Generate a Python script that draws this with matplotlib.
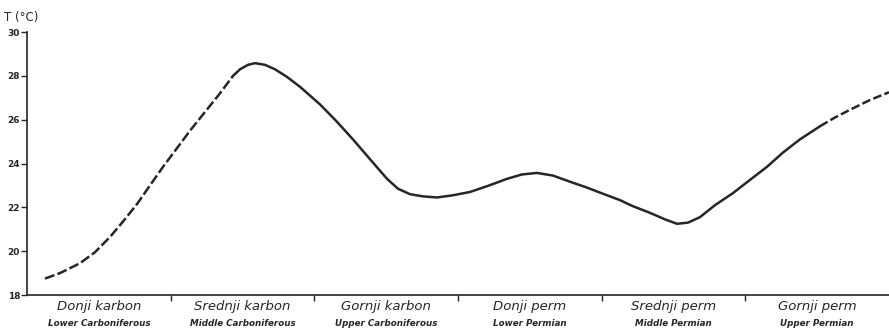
import numpy as np
import matplotlib.pyplot as plt

# periods (x axis is in period units, one unit per period)
periods_hr = ["Donji karbon", "Srednji karbon", "Gornji karbon",
              "Donji perm", "Srednji perm", "Gornji perm"]
periods_en = ["Lower Carboniferous", "Middle Carboniferous", "Upper Carboniferous",
              "Lower Permian", "Middle Permian", "Upper Permian"]

# temperature curve
t_pos = [0.125, 0.230, 0.369, 0.473, 0.578, 0.668, 0.766, 0.856, 0.947, 1.044,
         1.135, 1.239, 1.343, 1.434, 1.483, 1.538, 1.587, 1.657, 1.726, 1.810,
         1.900, 2.039, 2.151, 2.269, 2.387, 2.506, 2.582, 2.666, 2.756, 2.854,
         2.965, 3.083, 3.209, 3.341, 3.445, 3.550, 3.661, 3.779, 3.898, 4.009,
         4.127, 4.218, 4.336, 4.441, 4.524, 4.600, 4.684, 4.789, 4.914, 5.032,
         5.151, 5.262, 5.380, 5.520, 5.624, 5.728, 5.868, 6.000]
temp = [18.75, 19.0, 19.45, 19.95, 20.65, 21.35, 22.15, 23.0, 23.85, 24.7,
        25.5, 26.35, 27.2, 28.0, 28.3, 28.5, 28.58, 28.5, 28.3, 27.95,
        27.5, 26.7, 25.95, 25.1, 24.2, 23.3, 22.85, 22.6, 22.5, 22.45,
        22.55, 22.7, 22.98, 23.3, 23.5, 23.57, 23.45, 23.17, 22.9, 22.62,
        22.33, 22.05, 21.75, 21.45, 21.25, 21.3, 21.55, 22.1, 22.65, 23.25,
        23.85, 24.5, 25.1, 25.7, 26.1, 26.45, 26.9, 27.25]
dash_end = 13    # index where the dashed start turns solid
dash_start = 53  # index where the solid part turns dashed again

yticks = [18, 20, 22, 24, 26, 28, 30]

ink = "#262626"

fig = plt.figure(figsize=(8.89, 3.32), dpi=100)
ax = fig.add_axes([27 / 889, 1 - 295 / 332, 1 - 27 / 889, (295 - 32) / 332])

x = np.array(t_pos)
y = np.array(temp)
ax.plot(x[:dash_end + 1], y[:dash_end + 1], color=ink, lw=1.8, dashes=(4, 1.3))
ax.plot(x[dash_end:dash_start + 1], y[dash_end:dash_start + 1], color=ink, lw=1.8,
        solid_capstyle="round", solid_joinstyle="round")
ax.plot(x[dash_start:], y[dash_start:], color=ink, lw=1.8, dashes=(3.5, 1.3))

ax.set_xlim(0, 6)
ax.set_ylim(18, 30)
ax.set_yticks(yticks)
ax.set_yticklabels([str(v) for v in yticks], fontsize=6.5, fontweight="bold",
                   color=ink)
ax.set_xticks([1, 2, 3, 4, 5])
ax.set_xticklabels([])
ax.tick_params(axis="y", direction="out", length=4, width=1, pad=1, colors=ink)
ax.tick_params(axis="x", direction="out", length=4, width=1, colors=ink)

for s in ["top", "right"]:
    ax.spines[s].set_visible(False)
for s in ["left", "bottom"]:
    ax.spines[s].set_color(ink)
    ax.spines[s].set_linewidth(1.2)

for i, (hr, en) in enumerate(zip(periods_hr, periods_en)):
    ax.text(i + 0.5, -0.043, hr, transform=ax.get_xaxis_transform(),
            ha="center", va="center", fontsize=9.5, style="italic", color=ink)
    ax.text(i + 0.5, -0.108, en, transform=ax.get_xaxis_transform(),
            ha="center", va="center", fontsize=6.3, style="italic",
            fontweight="bold", color=ink)

fig.text(4 / 889, 1 - 17 / 332, "T (°C)", ha="left", va="center",
         fontsize=8.5, color=ink)

fig.savefig("out.png", dpi=100)
